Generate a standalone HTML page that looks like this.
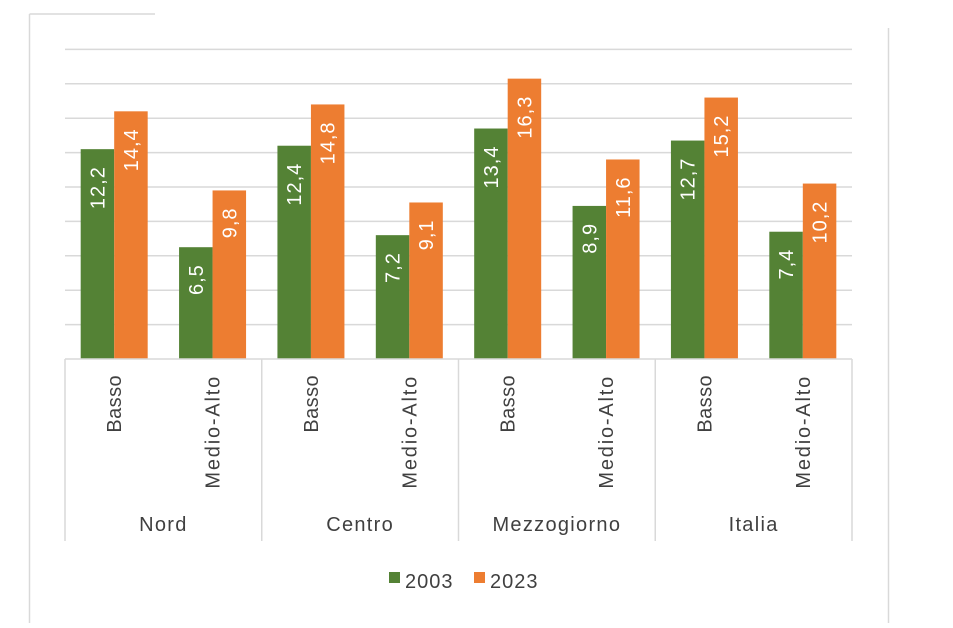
<!DOCTYPE html>
<html><head><meta charset="utf-8"><style>
body{margin:0;background:#fff;font-family:"Liberation Sans",sans-serif}
</style></head><body>
<svg width="953" height="623" xmlns="http://www.w3.org/2000/svg" font-family="Liberation Sans, sans-serif">
<line x1="29.5" y1="14" x2="155" y2="14" stroke="#d9d9d9" stroke-width="1.5"/>
<line x1="29.5" y1="14" x2="29.5" y2="623" stroke="#d9d9d9" stroke-width="1.5"/>
<line x1="888.5" y1="28" x2="888.5" y2="623" stroke="#d9d9d9" stroke-width="1.5"/>
<g id="grid"></g><g id="bars"></g><g id="axis"></g>
<g>
<rect x="389" y="572" width="11" height="11" fill="#548235"/>
<text x="405" y="588" font-size="20" letter-spacing="1" fill="#404040">2003</text>
<rect x="474" y="572" width="11" height="11" fill="#ED7D31"/>
<text x="490" y="588" font-size="20" letter-spacing="1" fill="#404040">2023</text>
</g>
</svg>
<script>
const groups=["Nord","Centro","Mezzogiorno","Italia"];
const subs=["Basso","Medio-Alto"];
const s2003=[12.2,6.5,12.4,7.2,13.4,8.9,12.7,7.4];
const s2023=[14.4,9.8,14.8,9.1,16.3,11.6,15.2,10.2];
const ticks=[2,4,6,8,10,12,14,16,18];
const NS="http://www.w3.org/2000/svg";
const X0=65,X1=852,Y0=359,YMAX=18,YTOP=49.4;
const y=v=>Y0-(v/YMAX)*(Y0-YTOP);
const n=s2003.length,cw=(X1-X0)/n;
function mk(t,a,p){const e=document.createElementNS(NS,t);for(const k in a)e.setAttribute(k,a[k]);p.appendChild(e);return e;}
const grid=document.getElementById('grid'),bars=document.getElementById('bars'),axis=document.getElementById('axis');
ticks.forEach(t=>{const l=mk('line',{x1:X0,x2:X1,y1:y(t),y2:y(t),stroke:'#d9d9d9','stroke-width':1.5},grid);

});
const bw=33.5;
for(let i=0;i<n;i++){
 const c=X0+cw*(i+0.5);
 [[s2003,'#548235',c-bw,'2003'],[s2023,'#ED7D31',c,'2023']].forEach(([s,col,x,nm])=>{
  const v=s[i];
  const r=mk('rect',{x:x,y:y(v),width:bw,height:Y0-y(v),fill:col},bars);
  
  
  const tx=x+bw/2+7,ty=y(v)+17;
  const t=mk('text',{x:tx,y:ty,transform:`rotate(-90 ${tx} ${ty})`,'text-anchor':'end','font-size':20,'letter-spacing':1,fill:'#fff'},bars);
  t.textContent=v.toFixed(1).replace('.',',');
  
  
 });
 const lx=c+7,ly=375;
 const st=mk('text',{x:lx,y:ly,transform:`rotate(-90 ${lx} ${ly})`,'text-anchor':'end','font-size':20,'letter-spacing':(i%2?1.8:0.4),fill:'#404040'},axis);
 st.textContent=subs[i%2];
 
 
}
const al=mk('line',{x1:X0,x2:X1,y1:Y0,y2:Y0,stroke:'#d9d9d9','stroke-width':1.5},axis);


for(let g=0;g<=groups.length;g++){
 const gx=X0+cw*2*g;
 const l=mk('line',{x1:gx,x2:gx,y1:Y0,y2:541,stroke:'#d9d9d9','stroke-width':1.5},axis);
 
 
 if(g<groups.length){
  const t=mk('text',{x:gx+cw,y:531,'text-anchor':'middle','font-size':20,'letter-spacing':1.3,fill:'#404040'},axis);
  t.textContent=groups[g];
  
  
 }
}
</script>
</body></html>
